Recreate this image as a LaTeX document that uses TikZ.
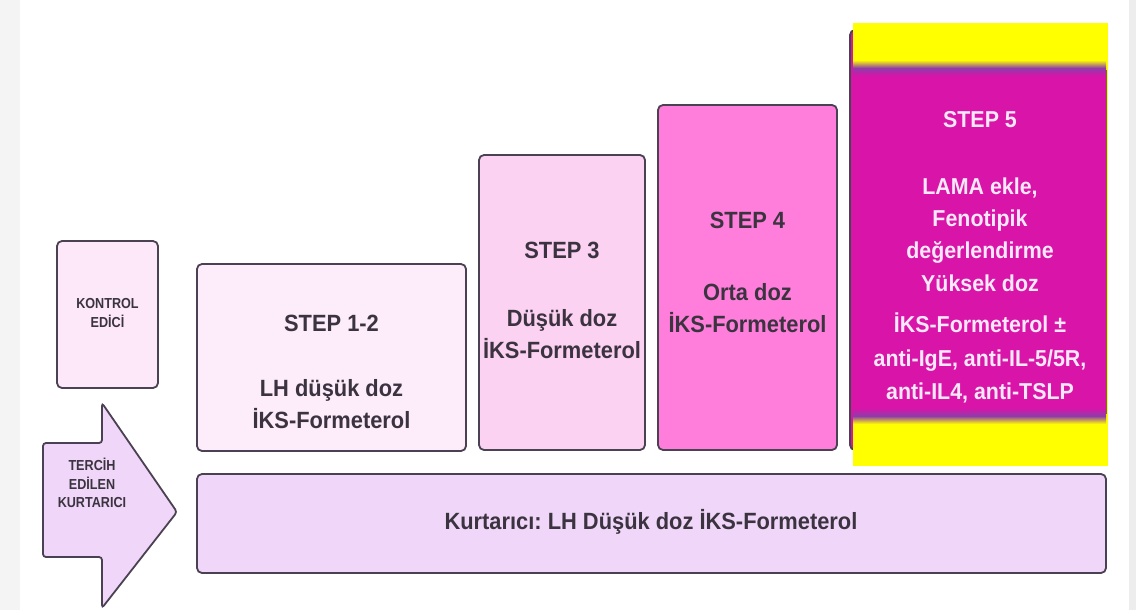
\documentclass[tikz,border=0pt]{standalone}
\usepackage{fontspec}
\setmainfont{Liberation Sans}
\newfontfamily\bodyfont[FakeStretch=0.93]{Liberation Sans}
\newfontfamily\labelfont[FakeStretch=0.87]{Liberation Sans}
\usetikzlibrary{shapes.geometric}
\definecolor{edge}{HTML}{4A4252}
\definecolor{ink}{HTML}{3B3340}
\definecolor{kontrolfill}{HTML}{FCE8F8}
\definecolor{paleone}{HTML}{FDEDFA}
\definecolor{palethree}{HTML}{FCD2F3}
\definecolor{hotfour}{HTML}{FF7EDB}
\definecolor{magfive}{HTML}{D914A9}
\definecolor{bandpurple}{HTML}{8E3CAA}
\definecolor{hiyellow}{HTML}{FFFF00}
\definecolor{lavender}{HTML}{F0D7F9}
\definecolor{lighttext}{HTML}{FCE8F8}
\definecolor{stripgray}{HTML}{EDEDED}
\begin{document}
\frenchspacing
\begin{tikzpicture}[x=1pt,y=-1pt,
  box/.style={draw=edge, line width=1.8pt, rounded corners=5pt, inner sep=0pt},
  big/.style={font=\bodyfont\fontsize{23.5}{32}\selectfont\bfseries, text=ink, align=center, inner sep=0pt},
  small/.style={font=\labelfont\fontsize{14.5}{18.5}\selectfont\bfseries, text=ink, align=center, inner sep=0pt},
  fivetext/.style={font=\bodyfont\fontsize{23}{33}\selectfont\bfseries, text=lighttext, align=center, inner sep=0pt}]
% page and side strips
\useasboundingbox (0,0) rectangle (1136,610);
\fill[white] (0,0) rectangle (1136,610);
\fill[stripgray!60] (0,0) rectangle (20,610);
\fill[stripgray] (1129,0) rectangle (1136,610);

% controller column
\node[box, fill=kontrolfill, minimum width=101pt, minimum height=147pt] (kontrol) at (107.5,314.5) {};
\node[small] (kontroltext) at (107.5,313) {KONTROL\\EDİCİ};

% reliever arrow
\draw[draw=edge, line width=1.8pt, fill=lavender, rounded corners=3pt]
  (43,443) -- (102,443) -- (102,403) -- (177,512) -- (102,608) -- (102,557) -- (43,557) -- cycle;
\node[small] (tercih) at (92,483) {TERCİH\\EDİLEN\\KURTARICI};

% steps 1-2, 3 and 4
\node[box, fill=paleone, minimum width=269pt, minimum height=187pt] (s12) at (331.5,357.5) {};
\node[big] (s12title) at (331.5,323) {STEP 1-2};
\node[big] (s12body) at (331.5,404) {LH düşük doz\\İKS-Formeterol};

\node[box, fill=palethree, minimum width=166pt, minimum height=295pt] (s3) at (562,302.5) {};
\node[big] (s3title) at (562,250) {STEP 3};
\node[big] (s3body) at (562,334) {Düşük doz\\İKS-Formeterol};

\node[box, fill=hotfour, minimum width=179pt, minimum height=345pt] (s4) at (747.5,277.5) {};
\node[big] (s4title) at (747.5,220) {STEP 4};
\node[big] (s4body) at (747.5,308) {Orta doz\\İKS-Formeterol};

% step 5 with highlighted panel
\node[box, fill=magfive, minimum width=256pt, minimum height=420pt] (s5) at (978,240) {};
\fill[hiyellow] (853,23) rectangle (1108,466);
\fill[magfive] (853,68) rectangle (1106,416);
\shade[top color=hiyellow, bottom color=magfive, middle color=bandpurple] (853,60) rectangle (1106,76);
\shade[top color=magfive, bottom color=hiyellow, middle color=bandpurple] (853,408) rectangle (1106,424);
\draw[edge!80, line width=1pt] (1106,70) -- (1106,414);
\node[fivetext] (s5title) at (980,120) {STEP 5};
\node[fivetext, font=\bodyfont\fontsize{23}{32.3}\selectfont\bfseries] (s5body) at (980,234.5) {LAMA ekle,\\Fenotipik\\değerlendirme\\Yüksek doz};
\node[fivetext, font=\bodyfont\fontsize{23}{33.5}\selectfont\bfseries] (s5drugs) at (980,358) {İKS-Formeterol ±\\anti-IgE, anti-IL-5/5R,\\anti-IL4, anti-TSLP};

% reliever bar
\node[box, fill=lavender, minimum width=909pt, minimum height=99pt] (kurt) at (651.5,523.5) {};
\node[big] (kurttext) at (651,522) {Kurtarıcı: LH Düşük doz İKS-Formeterol};
\end{tikzpicture}
\end{document}
